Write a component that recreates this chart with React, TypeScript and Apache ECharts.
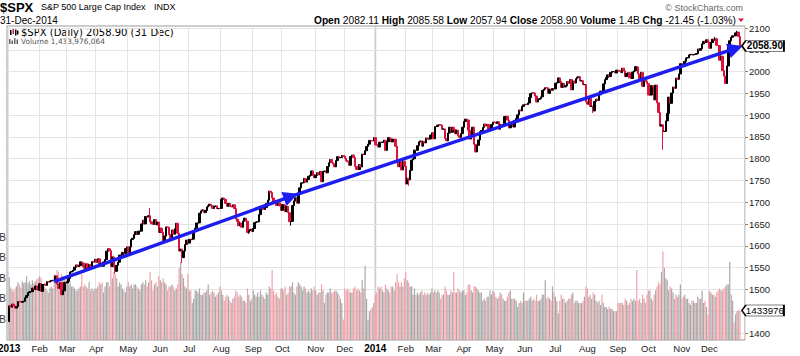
import React, { useEffect, useRef } from "react";
import * as echarts from "echarts";

// ---------------- DATA ----------------
const holidays = [
  "2013-01-01", "2013-01-21", "2013-02-18", "2013-03-29", "2013-05-27", "2013-07-04",
  "2013-09-02", "2013-11-28", "2013-12-25", "2014-01-01", "2014-01-20", "2014-02-17",
  "2014-04-18", "2014-05-26", "2014-07-04", "2014-09-01", "2014-11-27", "2014-12-25",
];

const priorClose = 1426.19; // close of 31-Dec-2012, open of the first bar

const closes2013 = [
  // Jan
  1462.42, 1459.37, 1466.47, 1461.89, 1457.15, 1461.02, 1472.12, 1472.05, 1470.68, 1472.34, 1472.63,
  1480.94, 1485.98, 1492.56, 1494.81, 1494.82, 1502.96, 1500.18, 1507.84, 1501.96, 1498.11,
  // Feb
  1513.17, 1495.71, 1511.29, 1512.12, 1509.39, 1517.93, 1517.01, 1519.43, 1520.33, 1521.38,
  1519.79, 1530.94, 1511.95, 1502.42, 1515.6, 1487.85, 1496.94, 1515.99, 1514.68,
  // Mar
  1518.2, 1525.2, 1539.79, 1541.46, 1544.26, 1551.18, 1556.22, 1552.48, 1554.52, 1563.23,
  1560.7, 1552.1, 1548.34, 1558.71, 1545.8, 1556.89, 1551.69, 1563.77, 1562.85, 1569.19,
  // Apr
  1562.17, 1570.25, 1553.69, 1559.98, 1553.28, 1563.07, 1568.61, 1587.73, 1593.37, 1588.85, 1552.36,
  1574.57, 1552.01, 1541.61, 1555.25, 1562.5, 1578.78, 1578.79, 1585.16, 1582.24, 1593.61, 1597.57,
  // May
  1582.7, 1597.59, 1614.42, 1617.5, 1625.96, 1632.69, 1626.67, 1633.7, 1633.77, 1650.34, 1658.78,
  1650.47, 1667.47, 1666.29, 1669.16, 1655.35, 1650.51, 1649.6, 1660.06, 1648.36, 1654.41, 1630.74,
  // Jun
  1640.42, 1631.38, 1608.9, 1622.56, 1643.38, 1642.81, 1626.13, 1612.52, 1636.36, 1626.73,
  1639.04, 1651.81, 1628.93, 1588.19, 1592.43, 1573.09, 1588.03, 1603.26, 1613.2, 1606.28,
  // Jul
  1614.96, 1614.08, 1615.41, 1631.89, 1640.46, 1652.32, 1652.62, 1675.02, 1680.19, 1682.5, 1676.26,
  1680.91, 1689.37, 1692.09, 1695.53, 1692.39, 1685.94, 1690.25, 1691.65, 1685.33, 1685.96, 1685.73,
  // Aug
  1706.87, 1709.67, 1707.14, 1697.37, 1690.91, 1697.48, 1691.42, 1689.47, 1694.16, 1685.39, 1661.32,
  1655.83, 1646.06, 1652.35, 1642.8, 1656.96, 1663.5, 1656.78, 1630.48, 1634.96, 1638.17, 1632.97,
  // Sep
  1639.77, 1653.08, 1655.08, 1655.17, 1671.71, 1683.99, 1689.13, 1683.42, 1687.99, 1697.6,
  1704.76, 1725.52, 1722.34, 1709.91, 1701.84, 1697.42, 1692.77, 1698.67, 1691.75, 1681.55,
  // Oct
  1695.0, 1693.87, 1678.66, 1690.5, 1676.12, 1655.45, 1656.4, 1692.56, 1703.2, 1710.14, 1698.06, 1721.54,
  1733.15, 1744.5, 1744.66, 1754.67, 1746.38, 1752.07, 1759.77, 1762.11, 1771.95, 1763.31, 1756.54,
  // Nov
  1761.64, 1767.93, 1762.97, 1770.49, 1747.15, 1770.61, 1771.89, 1767.69, 1782.0, 1790.62,
  1798.18, 1791.53, 1787.87, 1781.37, 1795.85, 1804.76, 1802.48, 1802.75, 1807.23, 1805.81,
  // Dec
  1800.9, 1795.15, 1792.81, 1785.03, 1805.09, 1808.37, 1802.62, 1782.22, 1775.5, 1775.32, 1786.54,
  1781.0, 1810.65, 1809.6, 1818.32, 1827.99, 1833.32, 1842.02, 1841.4, 1841.07, 1848.36,
];

const closes2014 = [
  // Jan
  1831.98, 1831.37, 1826.77, 1837.88, 1837.49, 1838.13, 1842.37, 1819.2, 1838.88, 1848.38, 1845.89,
  1838.7, 1843.8, 1844.86, 1828.46, 1790.29, 1781.56, 1792.5, 1774.2, 1794.19, 1782.59,
  // Feb
  1741.89, 1755.2, 1751.64, 1773.43, 1797.02, 1799.84, 1819.75, 1819.26, 1829.83, 1838.63,
  1840.76, 1828.75, 1839.78, 1836.25, 1847.61, 1845.12, 1845.16, 1854.29, 1859.45,
  // Mar
  1845.73, 1873.91, 1873.81, 1877.03, 1878.04, 1877.17, 1867.63, 1868.2, 1846.34, 1841.13, 1858.83,
  1872.25, 1860.77, 1872.01, 1866.52, 1857.44, 1865.62, 1852.56, 1849.04, 1857.62, 1872.34,
  // Apr
  1885.52, 1890.9, 1888.77, 1865.09, 1845.04, 1851.96, 1872.18, 1833.08, 1815.69, 1830.61, 1842.98,
  1862.31, 1864.85, 1871.89, 1879.55, 1875.39, 1878.61, 1863.4, 1869.43, 1878.33, 1883.95,
  // May
  1883.68, 1881.14, 1884.66, 1867.72, 1878.21, 1875.63, 1878.48, 1896.65, 1897.45, 1888.53, 1870.85,
  1877.86, 1885.08, 1872.83, 1888.03, 1892.49, 1900.53, 1911.91, 1909.78, 1920.03, 1923.57,
  // Jun
  1924.97, 1924.24, 1927.88, 1940.46, 1949.44, 1951.27, 1950.79, 1943.89, 1930.11, 1936.16, 1937.78,
  1941.99, 1956.98, 1959.48, 1962.87, 1962.61, 1949.98, 1959.53, 1957.22, 1960.96, 1960.23,
  // Jul
  1973.32, 1974.62, 1985.44, 1977.65, 1963.71, 1972.83, 1964.68, 1967.57, 1977.1, 1973.28, 1981.57,
  1958.12, 1978.22, 1973.63, 1983.53, 1987.01, 1987.98, 1978.34, 1978.91, 1969.95, 1970.07, 1930.67,
  // Aug
  1925.15, 1938.99, 1920.21, 1920.24, 1909.57, 1931.59, 1936.92, 1933.75, 1946.72, 1955.18, 1955.06,
  1971.74, 1981.6, 1986.51, 1992.37, 1988.4, 1997.92, 2000.02, 2000.12, 1996.74, 2003.37,
  // Sep
  2002.28, 2000.72, 1997.65, 2007.71, 2001.54, 1988.44, 1995.69, 1997.45, 1985.54, 1984.13, 1998.98,
  2001.57, 2011.36, 2010.4, 1994.29, 1982.77, 1998.3, 1965.99, 1982.85, 1977.8, 1972.29,
  // Oct
  1946.16, 1946.17, 1967.9, 1964.82, 1935.1, 1968.89, 1928.21, 1906.13, 1874.74, 1877.7, 1862.49, 1862.76,
  1886.76, 1904.01, 1941.28, 1927.11, 1950.82, 1964.58, 1961.63, 1985.05, 1982.3, 1994.65, 2018.05,
  // Nov
  2017.81, 2012.1, 2023.57, 2031.21, 2031.92, 2038.26, 2039.68, 2038.25, 2039.33, 2039.82,
  2041.32, 2051.8, 2048.72, 2052.75, 2063.5, 2069.41, 2067.03, 2072.83, 2067.56,
  // Dec
  2053.44, 2066.55, 2074.33, 2071.92, 2075.37, 2060.31, 2059.82, 2026.14, 2035.33, 2002.33, 1989.63,
  1972.74, 2012.89, 2061.23, 2070.65, 2078.54, 2082.17, 2081.88, 2088.77, 2090.57, 2080.35, 2058.9,
];

// volume, billions of shares
const volumes2013 = [
  3.05, 2.55, 2.45, 2.35, 2.5, 2.6, 2.8, 2.7, 2.55, 2.85, 2.75, 2.8, 3.1, 2.75, 2.85, 2.7, 2.9, 2.75, 2.85, 2.95, 3.0,
  3.1, 3.0, 2.7, 2.6, 2.5, 2.4, 2.3, 2.5, 2.6, 2.5, 3.2, 2.8, 3.4, 3.3, 2.7, 3.2, 3.1, 2.9, 2.9,
  2.8, 2.7, 2.8, 2.6, 2.6, 2.5, 2.4, 2.4, 2.5, 2.6, 3.2, 2.6, 2.7, 2.6, 2.5, 2.8, 2.4, 2.5, 2.4, 2.5,
  2.5, 2.6, 2.8, 2.7, 2.8, 2.3, 2.6, 2.8, 2.8, 2.6, 3.5, 3.0, 3.3, 3.2, 3.0, 2.6, 2.8, 2.7, 2.5, 2.4, 2.3, 2.6,
  2.8, 2.6, 2.7, 2.5, 2.7, 2.7, 2.6, 2.5, 2.4, 2.7, 2.8, 2.7, 2.9, 2.6, 2.8, 3.3, 2.9, 2.4, 2.7, 2.8, 2.6, 3.1,
  2.9, 2.8, 3.0, 2.8, 2.7, 2.4, 2.6, 2.6, 2.7, 2.6, 2.4, 2.5, 2.7, 3.5, 3.8, 3.2, 3.0, 2.6, 2.5, 3.2,
  2.4, 2.4, 1.8, 2.0, 2.4, 2.4, 2.3, 2.5, 2.2, 2.2, 2.3, 2.3, 2.4, 2.7, 2.2, 2.3, 2.4, 2.3, 2.1, 2.2, 2.3, 2.6,
  2.4, 2.2, 1.9, 2.1, 2.2, 2.1, 1.9, 1.8, 2.0, 2.1, 2.4, 2.3, 2.1, 2.2, 2.1, 1.9, 1.9, 1.8, 2.5, 2.2, 1.9, 2.0,
  2.4, 2.2, 2.1, 2.3, 2.1, 2.4, 2.2, 2.1, 2.0, 2.3, 2.2, 2.6, 2.5, 3.4, 2.4, 2.2, 2.3, 2.1, 2.0, 2.5,
  2.5, 2.4, 2.6, 2.2, 2.3, 2.6, 2.6, 2.8, 2.3, 2.2, 2.6, 2.8, 2.7, 2.6, 2.4, 2.6, 2.5, 2.3, 2.4, 2.3, 2.5, 2.4, 2.6,
  2.4, 2.2, 2.3, 2.3, 2.7, 2.4, 1.8, 2.2, 2.3, 2.3, 2.5, 2.3, 2.3, 2.4, 2.4, 2.3, 2.2, 2.0, 1.8, 1.0,
  2.5, 2.4, 2.5, 2.4, 2.3, 2.3, 2.5, 2.6, 2.4, 2.5, 2.4, 2.3, 2.9, 2.5, 3.6, 2.0, 1.0, 1.4, 1.5, 1.6, 1.8,
];

const volumes2014 = [
  2.2, 2.3, 2.6, 2.5, 2.6, 2.4, 2.3, 2.7, 2.5, 2.4, 2.3, 2.6, 2.6, 2.4, 2.8, 3.2, 2.8, 2.6, 2.8, 2.6, 3.0,
  3.3, 2.9, 2.8, 2.6, 2.6, 2.2, 2.5, 2.2, 2.3, 2.2, 2.3, 2.4, 2.2, 2.3, 2.2, 2.3, 2.2, 2.3, 2.5,
  2.3, 2.4, 2.3, 2.4, 2.3, 2.0, 2.2, 2.2, 2.6, 2.4, 2.2, 2.2, 2.4, 2.3, 3.3, 2.3, 2.3, 2.5, 2.4, 2.3, 2.4,
  2.4, 2.2, 2.3, 2.7, 2.7, 2.4, 2.3, 2.6, 2.6, 2.5, 2.4, 2.3, 2.3, 1.9, 2.0, 1.9, 2.1, 2.1, 2.4, 2.2, 2.4,
  2.3, 2.1, 2.0, 2.1, 2.3, 2.2, 2.0, 1.9, 1.9, 2.1, 2.3, 2.4, 2.0, 2.0, 2.0, 1.9, 1.6, 1.8, 1.9, 1.8, 2.3,
  1.9, 1.9, 1.9, 2.0, 2.1, 1.9, 2.0, 1.9, 2.2, 1.9, 1.9, 2.0, 2.2, 2.2, 2.9, 2.0, 2.1, 2.0, 1.9, 2.6, 2.3,
  2.1, 1.9, 1.3, 1.9, 2.2, 2.0, 2.0, 1.8, 1.9, 2.0, 2.0, 2.2, 2.3, 1.8, 1.9, 1.9, 1.8, 1.8, 1.8, 1.9, 2.1, 2.6,
  2.5, 2.1, 2.2, 2.0, 2.3, 2.2, 1.9, 1.8, 1.9, 1.7, 2.2, 1.8, 1.6, 1.6, 1.5, 1.6, 1.5, 1.5, 1.4, 1.4, 1.4,
  1.8, 1.8, 1.8, 1.8, 1.7, 2.0, 1.9, 1.7, 1.8, 2.0, 1.9, 2.0, 1.9, 3.4, 1.9, 2.0, 1.8, 2.2, 2.0, 1.8, 2.2,
  2.4, 2.4, 2.0, 1.9, 2.2, 2.4, 2.6, 2.8, 2.7, 3.3, 4.3, 3.5, 3.0, 2.9, 2.4, 2.6, 2.5, 2.3, 2.0, 2.2, 2.1, 2.2, 2.7,
  2.0, 2.1, 2.2, 2.0, 2.0, 1.8, 1.7, 1.9, 1.9, 1.8, 1.8, 2.1, 2.0, 2.0, 2.4, 1.8, 1.9, 1.6, 1.2,
  2.4, 2.3, 2.2, 2.2, 2.1, 2.3, 2.4, 2.5, 2.4, 2.4, 2.5, 2.6, 2.7, 2.7, 3.8, 2.2, 1.9, 0.85, 1.25, 1.4, 1.45, 1.434,
];

const intradayExtremes = [
  { date: "2013-04-18", low: 1536.0 },
  { date: "2013-05-22", high: 1687.2 },
  { date: "2013-06-24", low: 1560.3 },
  { date: "2013-08-28", low: 1627.5 },
  { date: "2013-10-09", low: 1646.5 },
  { date: "2014-02-05", low: 1737.9 },
  { date: "2014-04-11", low: 1814.4 },
  { date: "2014-08-07", low: 1904.8 },
  { date: "2014-10-15", low: 1820.7 },
  { date: "2014-12-05", high: 2079.5 },
  { date: "2014-12-29", high: 2093.6 },
];

// trend line anchors: [category index, price]
const trendStart = [32, 1518];
const trendMid = [195, 1713.5];
const trendEnd = [501, 2053.2];

const volumeTicks = [1, 2, 3, 4, 5]; // billions
const monthNames = ["Jan", "Feb", "Mar", "Apr", "May", "Jun", "Jul", "Aug", "Sep", "Oct", "Nov", "Dec"];
const lastClose = 2058.9;
const lastVolume = 1.433976064;

// ---------------- helpers ----------------
function tradingDays(): string[] {
  const out: string[] = [];
  const d = new Date(Date.UTC(2013, 0, 1));
  const end = Date.UTC(2014, 11, 31);
  while (d.getTime() <= end) {
    const wd = d.getUTCDay();
    const s = d.toISOString().slice(0, 10);
    if (wd !== 0 && wd !== 6 && holidays.indexOf(s) < 0) out.push(s);
    d.setUTCDate(d.getUTCDate() + 1);
  }
  return out;
}

const FONT = '"Liberation Sans", Arial, sans-serif';
const VERD = '"DejaVu Sans", Verdana, sans-serif';
const RED = "#dc143c";

export default function App() {
  const ref = useRef<HTMLDivElement>(null);
  useEffect(() => {
    if (!ref.current) return;
    const chart = echarts.init(ref.current, undefined, { renderer: "svg" });

    const dates = tradingDays();
    const closes = [...closes2013, ...closes2014];
    const volumes = [...volumes2013, ...volumes2014];
    const n = Math.min(dates.length, closes.length);
    const cats = ["pad-a", ...dates.slice(0, n), "pad-b", "pad-c", "pad-d"];
    const extreme: Record<string, any> = {};
    intradayExtremes.forEach((e) => (extreme[e.date] = e));

    const candle: any[] = ["-"];
    const vol: any[] = ["-"];
    for (let i = 0; i < n; i++) {
      const open = i === 0 ? priorClose : closes[i - 1];
      const close = closes[i];
      const e = extreme[dates[i]] || {};
      const low = Math.min(open, close, e.low ?? Infinity);
      const high = Math.max(open, close, e.high ?? -Infinity);
      candle.push([open, close, low, high]);
      const up = close >= open;
      vol.push({ value: volumes[i], itemStyle: { color: up ? "#a8a8a8" : "#f0a2aa" } });
    }
    candle.push("-", "-", "-");
    vol.push("-", "-", "-");

    const monthStart = new Set<number>();
    for (let i = 1; i < cats.length; i++) {
      const c = cats[i];
      if (c.startsWith("pad")) continue;
      const p = cats[i - 1];
      if (p.startsWith("pad") || p.slice(0, 7) !== c.slice(0, 7)) monthStart.add(i);
    }
    const isMonthStart = (idx: number) => monthStart.has(idx);

    const baseGraphic: any[] = [
      { id: "t1", type: "text", x: 0, y: 7, style: { text: "$SPX", fontFamily: FONT, fontWeight: "bold", fontSize: 13, fill: "#000", verticalAlign: "middle" } },
      { id: "t2", type: "text", x: 41, y: 7, style: { text: "S&P 500 Large Cap Index", fontFamily: FONT, fontSize: 9, fill: "#000", verticalAlign: "middle" } },
      { id: "t3", type: "text", x: 154, y: 7, style: { text: "INDX", fontFamily: FONT, fontSize: 9, fill: "#000", verticalAlign: "middle" } },
      { id: "t4", type: "text", x: 0, y: 20, style: { text: "31-Dec-2014", fontFamily: FONT, fontSize: 10, fill: "#000", verticalAlign: "middle" } },
      {
        id: "t5", type: "text", x: 736, y: 20,
        style: {
          text: "{b|Open} {v|2082.11} {b|High} {v|2085.58} {b|Low} {v|2057.94} {b|Close} {v|2058.90} {b|Volume} {v|1.4B} {b|Chg} {v|-21.45 (-1.03%)}",
          align: "right", verticalAlign: "middle", fontFamily: FONT, fontSize: 10.2, fill: "#000",
          rich: { b: { fontWeight: "bold", fontSize: 10.2, fontFamily: FONT }, v: { fontSize: 10.2, fontFamily: FONT } },
        },
      },
      { id: "tri", type: "polygon", shape: { points: [[738, 18.5], [744, 18.5], [741, 22]] }, style: { fill: RED } },
      { id: "t6", type: "text", x: 743, y: 7.5, style: { text: "© StockCharts.com", align: "right", verticalAlign: "middle", fontFamily: FONT, fontSize: 9, fill: "#666" } },
      { id: "ic1", type: "rect", shape: { x: 10, y: 30, width: 1.5, height: 5 }, style: { fill: "#000" } },
      { id: "ic2", type: "rect", shape: { x: 12.5, y: 29, width: 1.5, height: 5 }, style: { fill: RED } },
      { id: "ic3", type: "rect", shape: { x: 15, y: 29.5, width: 1.5, height: 6 }, style: { fill: "#000" } },
      { id: "ic4", type: "rect", shape: { x: 17, y: 30.5, width: 1.5, height: 4 }, style: { fill: "#000" } },
      { id: "t7", type: "text", x: 21, y: 32.5, style: { text: "$SPX (Daily) 2058.90 (31 Dec)", fontFamily: VERD, fontSize: 10, fill: "#000", verticalAlign: "middle" } },
      { id: "iv1", type: "rect", shape: { x: 9, y: 39, width: 1.5, height: 5 }, style: { fill: "#666" } },
      { id: "iv2", type: "rect", shape: { x: 11.5, y: 40.5, width: 1.5, height: 3.5 }, style: { fill: "#666" } },
      { id: "iv3", type: "rect", shape: { x: 14, y: 38, width: 1.5, height: 6 }, style: { fill: "#666" } },
      { id: "iv4", type: "rect", shape: { x: 16.5, y: 39.5, width: 1.5, height: 4.5 }, style: { fill: "#666" } },
      { id: "t8", type: "text", x: 21, y: 41, style: { text: "Volume 1,433,976,064", fontFamily: VERD, fontSize: 7.4, fill: "#555", verticalAlign: "middle" } },
    ];

    const gridL = 7;
    const gridR = 55;

    const boxPath = "path://M0,5.5L4,0L42,0L42,11L4,11Z";

    const option: any = {
      animation: false,
      backgroundColor: "#fff",
      grid: [
        { left: gridL, right: gridR, top: 26, bottom: 16, show: true, borderColor: "#9a9a9a", borderWidth: 1, backgroundColor: "transparent", outerBoundsMode: "none" },
        { left: gridL, right: gridR, top: 28, bottom: 23, outerBoundsMode: "none" },
        { left: gridL, right: gridR, top: 237, bottom: 16, outerBoundsMode: "none" },
      ],
      xAxis: [
        {
          type: "category", gridIndex: 0, data: cats, boundaryGap: true,
          axisLine: { show: false }, axisTick: { show: false },
          axisLabel: {
            interval: (idx: number) => isMonthStart(idx),
            margin: 3, fontSize: 9.5, fontFamily: FONT, color: "#222",
            formatter: (v: string) => {
              const m = parseInt(v.slice(5, 7), 10);
              return m === 1 ? "{y|" + v.slice(0, 4) + "}" : monthNames[m - 1];
            },
            rich: { y: { fontWeight: "bold", fontSize: 10, fontFamily: FONT, color: "#000" } },
          },
          splitLine: { show: true, interval: (idx: number) => isMonthStart(idx), lineStyle: { color: "#e4e4e4", width: 1 } },
        },
        { type: "category", gridIndex: 1, data: cats, boundaryGap: true, show: false },
        { type: "category", gridIndex: 2, data: cats, boundaryGap: true, show: false },
      ],
      yAxis: [
        { type: "value", gridIndex: 0, min: 0, max: 1, show: false },
        {
          type: "value", gridIndex: 1, position: "right", min: 1400, max: 2100, interval: 50,
          axisLine: { show: false },
          axisTick: { show: true, length: 3, lineStyle: { color: "#888" } },
          axisLabel: {
            margin: 4, fontSize: 9.5, fontFamily: FONT, color: "#222",
            formatter: (v: number) => (v === 1450 ? "" : String(v)),
          },
          splitLine: { show: true, lineStyle: { color: "#e4e4e4", width: 1 } },
        },
        {
          type: "value", gridIndex: 2, position: "left", min: 0, max: 5, interval: 1,
          axisLine: { show: false }, axisTick: { show: false }, axisLabel: { show: false },
          splitLine: { show: false },
        },
      ],
      series: [
        {
          type: "bar", xAxisIndex: 2, yAxisIndex: 2, data: vol, barWidth: 1.2, z: 1, silent: true,
          markPoint: {
            silent: true, symbol: boxPath, symbolSize: [42, 11], symbolKeepAspect: false, symbolOffset: [23, 0],
            itemStyle: { color: "#fff", borderColor: "#000", borderWidth: 1 },
            label: { show: true, position: "inside", offset: [2, 0], formatter: "1433976", fontSize: 9.8, fontFamily: FONT, color: "#000" },
            data: [{ coord: [n, lastVolume] }],
            z: 10,
          },
        },
        {
          type: "candlestick", xAxisIndex: 1, yAxisIndex: 1, data: candle, barWidth: 2, z: 3, silent: true,
          itemStyle: { color: "#000", color0: RED, borderColor: "#000", borderColor0: RED, borderWidth: 1 },
          markLine: {
            silent: true, symbol: ["none", "triangle"], symbolSize: 15,
            lineStyle: { color: "#1d1df0", width: 3.5, type: "solid" },
            itemStyle: { color: "#1d1df0" },
            label: { show: false },
            data: [
              [{ coord: trendStart }, { coord: trendMid }],
              [{ coord: trendMid }, { coord: trendEnd }],
            ],
            z: 5,
          },
          markPoint: {
            silent: true, symbol: boxPath, symbolSize: [42, 11], symbolKeepAspect: false, symbolOffset: [23, 0],
            itemStyle: { color: "#fff", borderColor: "#000", borderWidth: 1 },
            label: { show: true, position: "inside", offset: [2, 0], formatter: "2058.90", fontSize: 10, fontWeight: "bold", fontFamily: FONT, color: "#000" },
            data: [{ coord: [n, lastClose] }],
            z: 10,
          },
        },
      ],
      graphic: baseGraphic,
    };
    chart.setOption(option);

    // darker separator at the year boundary
    const yearIdx = cats.indexOf("2014-01-02");
    const xa = chart.convertToPixel({ xAxisIndex: 0 }, yearIdx) as number;
    const xb = chart.convertToPixel({ xAxisIndex: 0 }, yearIdx - 1) as number;
    const bx = Math.round((xa + xb) / 2) + 0.5;
    // volume scale labels, right-aligned at the left edge (mostly cut off, as in the reference)
    const volLabels = volumeTicks.map((v) => ({
      id: "vl" + v, type: "text", x: 6, y: chart.convertToPixel({ yAxisIndex: 2 }, v) as number,
      style: { text: v + "B", align: "right", verticalAlign: "middle", fontFamily: FONT, fontSize: 10, fill: "#333" },
    }));
    chart.setOption({
      graphic: [
        ...baseGraphic,
        ...volLabels,
        { id: "yr", type: "line", z: -1, shape: { x1: bx, y1: 26, x2: bx, y2: 340 }, style: { stroke: "#cfcfcf", lineWidth: 1.5 } },
      ],
    });

    return () => chart.dispose();
  }, []);
  return <div ref={ref} style={{ position: "fixed", left: 0, top: 0, width: 800, height: 356, background: "#fff" }} />;
}
